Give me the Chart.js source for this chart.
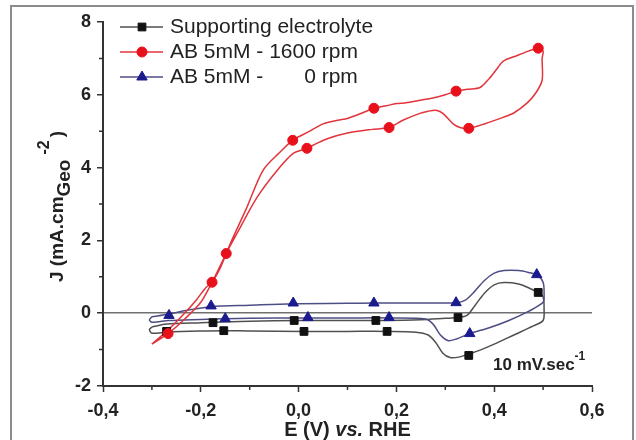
<!DOCTYPE html>
<html>
<head>
<meta charset="utf-8">
<script src="https://cdn.jsdelivr.net/npm/chart.js@4.4.0/dist/chart.umd.min.js"></script>
<style>
html,body{margin:0;padding:0;background:#fff}
canvas{display:block}
</style>
</head>
<body>
<canvas id="cv" width="636" height="440"></canvas>
<script>
// Supporting electrolyte loop
const seE = [-0.30,-0.27,-0.2,-0.175,-0.1,0.0,0.1,0.158,0.25,0.30,0.326,0.345,0.36,0.38,0.40,0.42,0.45,0.47,0.49,0.50,0.502,0.50,0.48,0.44,0.40,0.37,0.348,0.33,0.31,0.295,0.28,0.265,0.24,0.181,0.1,0.011,-0.1,-0.153,-0.2,-0.27,-0.30,-0.305,-0.30];
const seJ = [-0.38,-0.3,-0.26,-0.25,-0.22,-0.2,-0.2,-0.2,-0.18,-0.14,-0.12,-0.05,0.2,0.55,0.78,0.84,0.8,0.7,0.57,0.45,0.1,-0.2,-0.35,-0.6,-0.85,-1.02,-1.12,-1.2,-1.22,-1.1,-0.8,-0.6,-0.52,-0.5,-0.5,-0.5,-0.49,-0.48,-0.49,-0.52,-0.55,-0.45,-0.38];
const seMkE = [-0.27,-0.175,-0.153,-0.009,0.011,0.158,0.181,0.326,0.348,0.49];
const seMkJ = [-0.5,-0.26,-0.48,-0.2,-0.5,-0.2,-0.5,-0.12,-1.16,0.57];

// AB 5mM - 1600 rpm
const rE = [-0.30,-0.27,-0.24,-0.21,-0.19,-0.177,-0.16,-0.14,-0.106,-0.073,-0.04,-0.012,0.02,0.05,0.08,0.1,0.13,0.154,0.18,0.2,0.22,0.248,0.27,0.30,0.322,0.345,0.371,0.39,0.405,0.418,0.447,0.47,0.49,0.5,0.498,0.498,0.485,0.467,0.44,0.418,0.38,0.348,0.33,0.316,0.295,0.283,0.265,0.248,0.213,0.185,0.15,0.1,0.06,0.035,0.017,-0.011,-0.044,-0.085,-0.126,-0.148,-0.177,-0.2,-0.236,-0.267,-0.30];
const rJ = [-0.85,-0.5,-0.1,0.35,0.7,0.85,1.25,1.9,2.9,3.92,4.4,4.75,4.98,5.2,5.3,5.35,5.5,5.63,5.7,5.76,5.78,5.85,5.9,6.0,6.1,6.15,6.2,6.45,6.7,6.92,7.08,7.2,7.28,7.2,7.0,6.4,6.05,5.77,5.5,5.38,5.2,5.08,5.1,5.2,5.49,5.57,5.55,5.49,5.3,5.1,5.05,4.95,4.8,4.65,4.53,4.39,3.92,3.18,2.19,1.64,0.85,0.3,-0.2,-0.56,-0.85];
const rMkE = [-0.267,-0.177,-0.148,-0.012,0.017,0.154,0.185,0.322,0.348,0.49];
const rMkJ = [-0.56,0.85,1.64,4.75,4.53,5.63,5.1,6.1,5.08,7.28];

// AB 5mM - 0 rpm
const bE = [-0.30,-0.265,-0.22,-0.179,-0.1,-0.011,0.1,0.154,0.25,0.322,0.34,0.36,0.38,0.40,0.42,0.45,0.47,0.487,0.50,0.502,0.50,0.47,0.43,0.39,0.35,0.32,0.305,0.29,0.275,0.26,0.185,0.1,0.019,-0.1,-0.15,-0.2,-0.265,-0.30,-0.305,-0.30];
const bJ = [-0.1,-0.02,0.1,0.18,0.22,0.26,0.27,0.28,0.28,0.29,0.35,0.6,0.9,1.1,1.17,1.17,1.12,1.05,0.85,0.5,0.3,0.05,-0.2,-0.4,-0.56,-0.72,-0.75,-0.6,-0.3,-0.16,-0.13,-0.13,-0.13,-0.14,-0.15,-0.17,-0.2,-0.25,-0.18,-0.1];
const bMkE = [-0.265,-0.179,-0.15,-0.011,0.019,0.154,0.185,0.322,0.35,0.487];
const bMkJ = [-0.06,0.2,-0.15,0.28,-0.12,0.28,-0.12,0.29,-0.56,1.06];

const labels = ['Supporting electrolyte', 'AB 5mM - 1600 rpm', 'AB 5mM -       0 rpm'];
const xMinor = [-0.3,-0.1,0.1,0.3,0.5];
const yMinor = [-1,1,3,5,7];

const FF = "'Liberation Sans', Arial, sans-serif";
const pts = (xs, ys) => xs.map((x, i) => ({ x, y: ys[i] }));

const series = [
  { label: labels[1], e: rE, j: rJ, me: rMkE, mj: rMkJ, line: '#e2343c', fill: '#e8111b', style: 'circle', r: 5 },
  { label: labels[2], e: bE, j: bJ, me: bMkE, mj: bMkJ, line: '#4e4e86', fill: '#1b1b8e', style: 'triangle', r: 6 },
  { label: labels[0], e: seE, j: seJ, me: seMkE, mj: seMkJ, line: '#505050', fill: '#111111', style: 'rect', r: 5.5 }
];
const legendOrder = [2, 0, 1];

const datasets = [];
series.forEach(s => {
  datasets.push({ data: pts(s.me, s.mj), showLine: false, pointStyle: s.style, pointRadius: s.r,
    backgroundColor: s.fill, borderColor: s.fill, borderWidth: 1 });
});
series.forEach(s => {
  datasets.push({ data: pts(s.e, s.j), showLine: true, pointRadius: 0, borderColor: s.line,
    borderWidth: 1.5, tension: 0.3, fill: false });
});

const decor = {
  id: 'decor',
  beforeDraw(chart) {
    const c = chart.ctx;
    c.save();
    c.fillStyle = '#fff';
    c.fillRect(0, 0, chart.width, chart.height);
    c.strokeStyle = '#8c8c8c';
    c.lineWidth = 2;
    c.strokeRect(11, 6, 622, 460);
    c.restore();
  },
  afterDraw(chart) {
    const c = chart.ctx, xs = chart.scales.x, ys = chart.scales.y, a = chart.chartArea;
    c.save();
    // minor ticks
    c.strokeStyle = '#333';
    c.lineWidth = 1.5;
    c.beginPath();
    xMinor.forEach(v => { const p = xs.getPixelForValue(v); c.moveTo(p, a.bottom); c.lineTo(p, a.bottom + 4); });
    yMinor.forEach(v => { const p = ys.getPixelForValue(v); c.moveTo(a.left, p); c.lineTo(a.left - 4, p); });
    c.stroke();

    // legend
    c.textBaseline = 'middle';
    c.font = '21px ' + FF;
    legendOrder.forEach((k, i) => {
      const s = series[k], y = 27 + i * 25;
      c.strokeStyle = s.line; c.lineWidth = 1.5;
      c.beginPath(); c.moveTo(120, y); c.lineTo(163, y); c.stroke();
      c.fillStyle = s.fill; c.strokeStyle = s.fill; c.lineWidth = 1;
      Chart.helpers.drawPoint(c, { pointStyle: s.style, radius: s.r, rotation: 0, borderWidth: 1 }, 142, y);
      c.fillStyle = '#222';
      c.fillText(s.label, 170, y);
    });

    // x title
    c.textBaseline = 'alphabetic';
    c.fillStyle = '#222';
    const parts = [['E (V) ', 'bold'], ['vs.', 'italic bold'], [' RHE', 'bold']];
    let tw = 0;
    parts.forEach(p => { c.font = p[1] + ' 20px ' + FF; tw += c.measureText(p[0]).width; });
    let x = (a.left + a.right) / 2 - tw / 2;
    parts.forEach(p => { c.font = p[1] + ' 20px ' + FF; c.fillText(p[0], x, 436); x += c.measureText(p[0]).width; });

    // y title
    c.save();
    c.translate(63, 282);
    c.rotate(-Math.PI / 2);
    c.font = 'bold 19px ' + FF;
    c.fillText('J (mA.cm', 0, 0);
    let w = c.measureText('J (mA.cm').width;
    c.font = 'bold 19px ' + FF;
    c.fillText('Geo', w, 7);
    w += c.measureText('Geo').width + 5;
    c.font = 'bold 16px ' + FF;
    c.fillText('-2', w, -14);
    w += c.measureText('-2').width + 3;
    c.font = 'bold 19px ' + FF;
    c.fillText(')', w, 0);
    c.restore();

    // scan rate note
    c.font = 'bold 17px ' + FF;
    c.fillText('10 mV.sec', 493, 370);
    const nw = c.measureText('10 mV.sec').width;
    c.font = 'bold 12px ' + FF;
    c.fillText('-1', 493 + nw, 360);
    c.restore();
  }
};

const fmtX = v => (Math.abs(v) < 1e-9 ? 0 : v).toFixed(1).replace('.', ',');

new Chart(document.getElementById('cv').getContext('2d'), {
  type: 'scatter',
  data: { datasets },
  options: {
    responsive: false,
    animation: false,
    layout: { padding: { top: 22, right: 44, left: 0, bottom: 0 } },
    plugins: { legend: { display: false }, tooltip: { enabled: false } },
    scales: {
      x: {
        type: 'linear', min: -0.4, max: 0.6,
        afterFit: s => { s.height = 54; },
        ticks: { stepSize: 0.2, callback: fmtX, color: '#222', padding: 8,
          font: { family: FF, size: 18, weight: 'bold' } },
        grid: { drawOnChartArea: false, tickLength: 6, tickWidth: 1.5, tickColor: '#333' },
        border: { color: '#333', width: 2 }
      },
      y: {
        type: 'linear', min: -2, max: 8,
        afterFit: s => { s.width = 103; },
        ticks: { stepSize: 2, color: '#222', padding: 6,
          font: { family: FF, size: 18, weight: 'bold' } },
        grid: { color: c => (c.tick && c.tick.value === 0 ? '#707070' : 'rgba(0,0,0,0)'), lineWidth: 1.5,
          tickLength: 6, tickWidth: 1.5, tickColor: '#333' },
        border: { color: '#333', width: 2 }
      }
    }
  },
  plugins: [decor]
});
</script>
</body>
</html>
